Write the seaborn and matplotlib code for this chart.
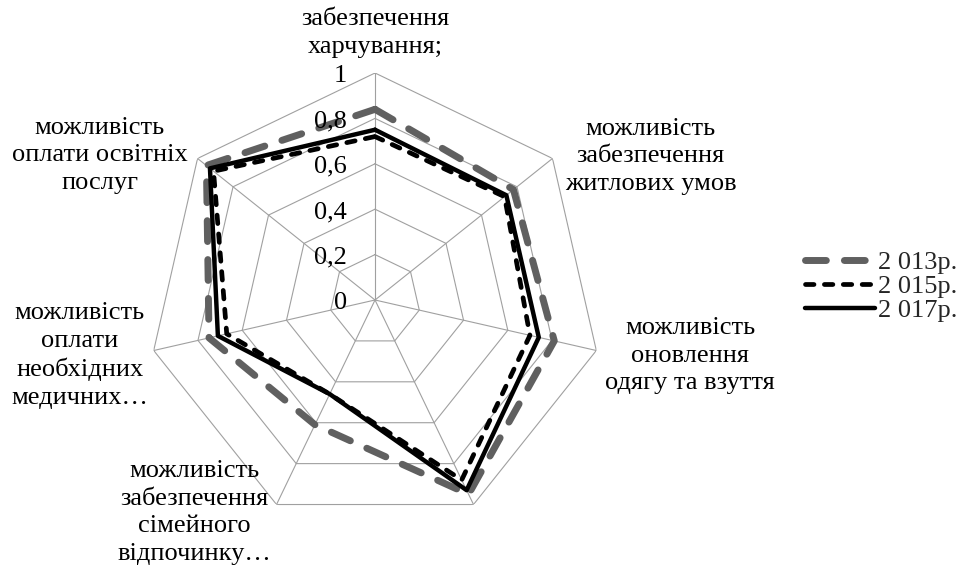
import numpy as np
import pandas as pd
import matplotlib
matplotlib.use("Agg")
import matplotlib.pyplot as plt
import seaborn as sns

categories = [
    "забезпечення\nхарчування;",
    "можливість\nзабезпечення\nжитлових умов",
    "можливість\nоновлення\nодягу та взуття",
    "",
    "можливість\nзабезпечення\nсімейного\nвідпочинку…",
    "можливість\nоплати\nнеобхідних\nмедичних…",
    "можливість\nоплати освітніх\nпослуг",
]
series_names = ["2 013р.", "2 015р.", "2 017р."]
v2013 = [0.84, 0.78, 0.81, 0.95, 0.61, 0.75, 0.95]
v2015 = [0.72, 0.73, 0.70, 0.88, 0.46, 0.67, 0.91]
v2017 = [0.75, 0.74, 0.74, 0.93, 0.46, 0.71, 0.93]
ring_values = [0.2, 0.4, 0.6, 0.8, 1.0]
ring_labels = ["0", "0,2", "0,4", "0,6", "0,8", "1"]

sns.set_theme(style="white")
plt.rcParams["font.family"] = ["Liberation Serif", "DejaVu Serif"]

FS = 19
fig = plt.figure(figsize=(9.65, 5.71), dpi=100)
ax = fig.add_axes([0.15337, 0.07706, 0.4705, 0.7951], projection="polar")
ax.set_theta_zero_location("N")
ax.set_theta_direction(-1)
ax.set_ylim(0, 1)
ax.set_xticks([])
ax.set_yticks([])
ax.grid(False)
ax.spines["polar"].set_visible(False)
ax.set_facecolor("none")

n = len(categories)
theta = np.linspace(0, 2 * np.pi, n, endpoint=False)
theta_closed = np.append(theta, 2 * np.pi)

grid_color = "#a0a0a0"
for r in ring_values:
    ax.plot(theta_closed, [r] * (n + 1), color=grid_color, lw=0.8, zorder=1)
for t in theta:
    ax.plot([t, t], [0, 1], color=grid_color, lw=0.8, zorder=1)

styles = {
    "2 013р.": dict(color="#606060", lw=5.0, linestyle=(0, (3.0, 2.6)), dash_capstyle="round"),
    "2 015р.": dict(color="black", lw=3.4, linestyle=(0, (1.8, 2.2)), dash_capstyle="round"),
    "2 017р.": dict(color="black", lw=3.2, linestyle="-", solid_capstyle="round"),
}

handles = []
for name, vals in zip(series_names, [v2013, v2015, v2017]):
    df = pd.DataFrame({"theta": theta_closed, "value": list(vals) + [vals[0]]})
    st = styles[name]
    sns.lineplot(data=df, x="theta", y="value", ax=ax, sort=False, color=st["color"],
                 linewidth=st["lw"], linestyle=st["linestyle"], legend=False,
                 **{k: v for k, v in st.items() if k.endswith("capstyle")},
                 zorder=3, clip_on=False)
    ln = ax.lines[-1]
    handles.append(ln)
ax.set_xlabel("")
ax.set_ylabel("")
if ax.get_legend() is not None:
    ax.get_legend().remove()

# radial value labels
for r, lab in zip([0.0] + ring_values, ring_labels):
    ax.annotate(lab, xy=(0, r), xycoords="data", xytext=(-28, -3), textcoords="offset pixels",
                ha="right", va="center", fontsize=FS, color="black")

# category labels (offset from the outer vertex, in pixels)
offsets = [(0, 40), (98, 2), (94, -5), (0, 0), (-82, -8), (-74, -5), (-98, 3)]
for t, lab, off in zip(theta, categories, offsets):
    if lab:
        ax.annotate(lab, xy=(t, 1.0), xycoords="data", xytext=off, textcoords="offset pixels",
                    ha="center", va="center", multialignment="center", fontsize=FS,
                    linespacing=1.32, color="black", annotation_clip=False)

fig.legend(handles=handles, labels=series_names, loc="center left",
           bbox_to_anchor=(805 / 965, 1 - 286 / 571), frameon=False, fontsize=FS,
           handlelength=2.65, handletextpad=0.12, borderpad=0, borderaxespad=0,
           labelspacing=0.02)

fig.savefig("out.png", dpi=100)
